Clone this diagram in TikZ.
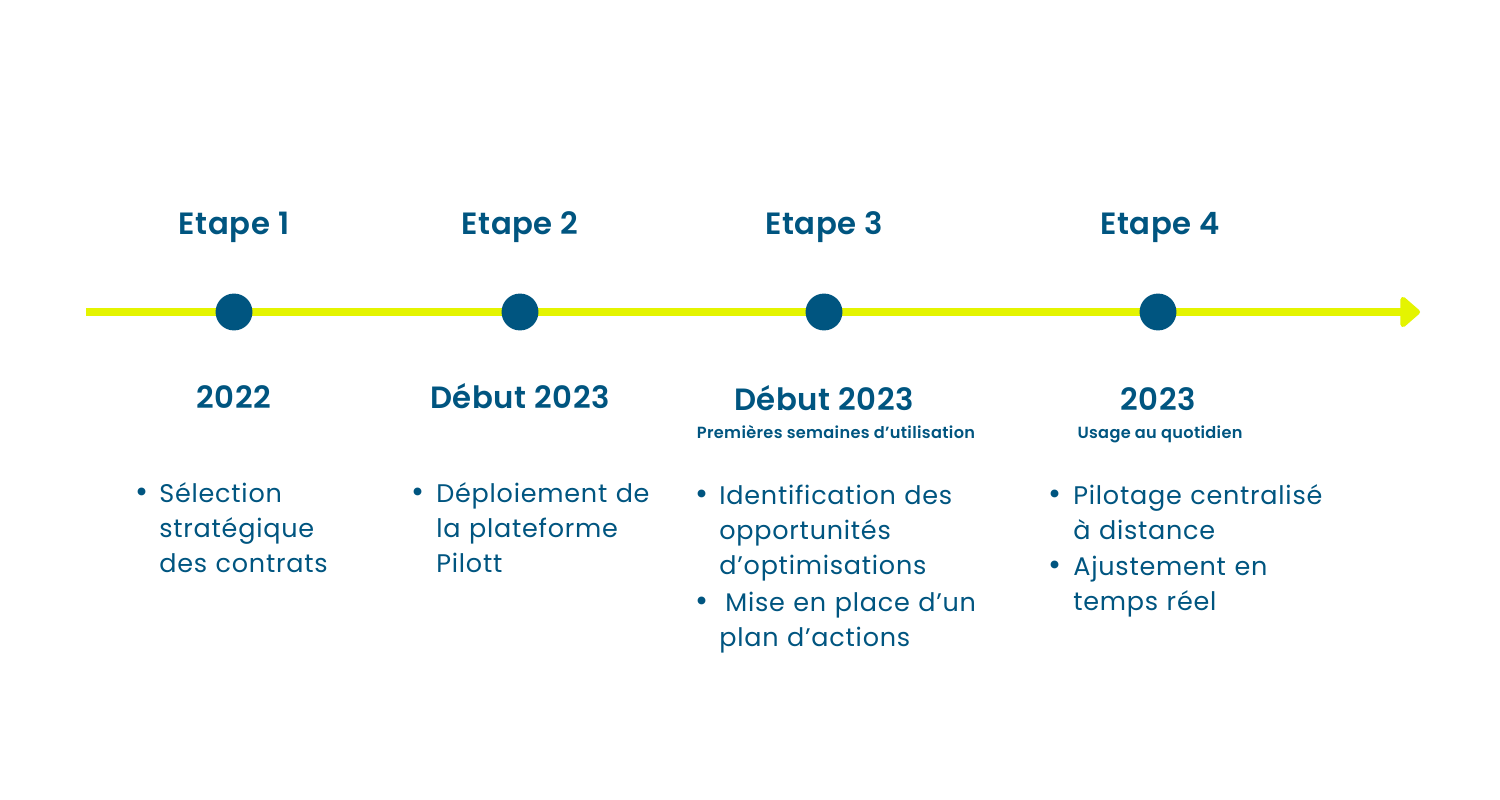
\documentclass[tikz,border=0pt]{standalone}
\usepackage{fontspec}
\setmainfont{Poppins}
\newfontfamily\semibold[LetterSpace=2]{Poppins SemiBold}
\newfontfamily\wide[LetterSpace=3]{Poppins}
\usetikzlibrary{arrows.meta, positioning}
\definecolor{pilottblue}{RGB}{0,85,128}
\definecolor{limeline}{RGB}{228,244,0}

\begin{document}
\begin{tikzpicture}[x=0.02cm, y=-0.02cm,
  arr/.style={-{Triangle[round, length=12pt, width=20pt]}, line width=4.5pt, draw=limeline},
  milestone/.style={circle, fill=pilottblue, minimum size=21pt, inner sep=0pt},
  etape/.style={anchor=base, text=pilottblue, font=\fontsize{17.5}{20}\semibold},
  year/.style={anchor=base, text=pilottblue, font=\fontsize{17.5}{20}\semibold},
  sub/.style={anchor=base, text=pilottblue, font=\fontsize{9.2}{11}\semibold},
  dot/.style={anchor=base, text=pilottblue, inner sep=0pt, font=\fontsize{18}{20}\selectfont},
  item/.style={anchor=base west, text=pilottblue, inner sep=0pt, align=left,
    text width=6cm, font=\fontsize{14.5}{20}\wide}]
  \useasboundingbox[fill=white] (0,0) rectangle (1500,800);

  % frise
  \coordinate (start) at (86,312);
  \coordinate (end) at (1420,312);
  \draw[arr] (start) -- (end);

  % jalons
  \node[milestone] (m1) at (234,312) {};
  \node[milestone] (m2) at (520,312) {};
  \node[milestone] (m3) at (824,312) {};
  \node[milestone] (m4) at (1158,312) {};

  \node[etape] (e1) at (234,235) {Etape 1};
  \node[etape] (e2) at (520,235) {Etape 2};
  \node[etape] (e3) at (824,235) {Etape 3};
  \node[etape] (e4) at (1160,235) {Etape 4};

  \node[year] (y1) at (234,408) {2022};
  \node[year] (y2) at (520,408) {Début 2023};
  \node[year] (y3) at (824,410) {Début 2023};
  \node[year] (y4) at (1158,410) {2023};
  \node[sub] (s3) at (836,438) {Premières semaines d’utilisation};
  \node[sub] (s4) at (1160,438) {Usage au quotidien};

  % puces
  \node[dot] (d1) at (142,502) {•};
  \node[item] (t1) at (159,502) {Sélection\\stratégique\\des contrats};
  \node[dot] (d2) at (418,502) {•};
  \node[item] (t2) at (436,502) {Déploiement de\\la plateforme\\Pilott};
  \node[dot] (d3a) at (702,504) {•};
  \node[item] (t3a) at (719,504) {Identification des\\opportunités\\d’optimisations};
  \node[dot] (d3b) at (702,611) {•};
  \node[item] (t3b) at (725,611) {Mise en place d’un};
  \node[item] (t3c) at (719,646) {plan d’actions};
  \node[dot] (d4a) at (1055,504) {•};
  \node[item] (t4a) at (1073,504) {Pilotage centralisé\\à distance};
  \node[dot] (d4b) at (1055,575) {•};
  \node[item] (t4b) at (1073,575) {Ajustement en\\temps réel};
\end{tikzpicture}
\end{document}
